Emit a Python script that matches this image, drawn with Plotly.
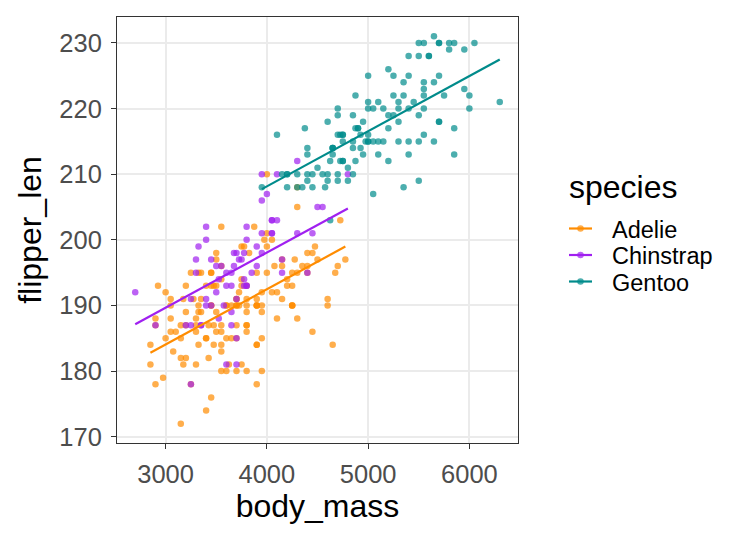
import numpy as np
import plotly.graph_objects as go

# Adelie: (flipper_len, body_mass)
adelie_flipper = [181,186,195,193,190,181,195,193,190,186,180,182,191,198,185,195,197,184,194,
                  174,180,189,185,180,187,183,187,172,180,178,178,188,184,195,196,190,180,181,
                  184,182,195,186,196,185,190,182,179,190,191,186,188,190,200,187,191,186,193,
                  181,194,185,195,185,192,184,192,195,188,190,198,190,190,196,197,190,195,191,
                  184,187,195,189,196,187,193,191,194,190,189,189,190,202,205,185,186,187,208,
                  190,196,178,192,192,203,183,190,193,184,199,190,181,197,198,191,193,197,191,
                  196,188,199,189,189,187,198,176,202,186,199,191,195,191,210,190,197,193,199,
                  187,190,191,200,185,193,193,187,188,190,192,185,190,184,195,193,187,201]
adelie_mass = [3750,3800,3250,3450,3650,3625,4675,3475,4250,3300,3700,3200,3800,4400,3700,3450,
               4500,3325,4200,3400,3600,3800,3950,3800,3800,3550,3200,3150,3950,3250,3900,3300,
               3900,3325,4150,3950,3550,3300,4650,3150,3900,3100,4400,3000,4600,3425,2975,3450,
               4150,3500,4300,3450,4050,2900,3700,3550,3800,2850,3750,3150,4400,3600,4050,2850,
               3950,3350,4100,3050,4450,3600,3900,3550,4150,3700,4250,3700,3900,3550,4000,3200,
               4700,3800,4200,3350,3550,3800,3500,3950,3600,3550,4300,3400,4450,3300,4300,3700,
               4350,2900,4100,3725,4725,3075,4250,2925,3550,3750,3900,3175,4775,3825,4600,3200,
               4275,3900,4075,2900,3775,3350,3325,3150,3500,3450,3875,3050,4000,3275,4300,3050,
               4000,3325,3500,3500,4475,3425,3900,3175,3975,3400,4250,3400,3475,3050,3725,3000,
               3650,4250,3475,3450,3750,3700,4000]

chinstrap_flipper = [192,196,193,188,197,198,178,197,195,198,193,194,185,201,190,201,197,181,190,
                     195,181,191,187,193,195,197,200,200,191,205,187,201,187,203,195,199,195,210,
                     192,205,210,187,196,196,196,201,190,212,187,198,199,201,193,203,187,197,191,
                     203,202,194,206,189,195,207,202,193,210,198]
chinstrap_mass = [3500,3900,3650,3525,3725,3950,3250,3750,4150,3700,3800,3775,3700,4050,3575,4050,
                  3300,3700,3450,4400,3600,3400,2900,3800,3300,4150,3400,3800,3700,4550,3200,4300,
                  3350,4100,3600,3900,3850,4800,2700,4500,3950,3650,3550,3500,3675,4450,3400,4300,
                  3250,3675,3325,3950,3600,4050,3350,3450,3250,4050,3800,3525,3950,3650,3650,4000,
                  3400,3775,4100,3775]

gentoo_flipper = [211,230,210,218,215,210,211,219,209,215,214,216,214,213,210,217,210,221,209,222,
                  218,215,213,215,215,215,216,215,210,220,222,209,207,230,220,220,213,219,208,208,
                  208,225,210,216,222,217,210,225,213,215,210,220,210,225,217,220,208,220,208,224,
                  208,221,214,231,219,230,214,229,220,223,216,221,221,217,216,230,209,220,215,223,
                  212,221,212,224,212,228,218,218,212,230,218,228,212,224,214,226,216,222,203,225,
                  219,228,215,228,216,215,210,219,208,209,216,229,213,230,217,230,217,222,214,215,
                  222,212,213]
gentoo_mass = [4500,5700,4450,5700,5400,4550,4800,5200,4400,5150,4650,5550,4650,5850,4200,5850,
               4150,6300,4800,5350,5700,5000,4400,5050,5000,5100,4100,5650,4600,5550,5250,4700,
               5050,6050,5150,5400,4950,5250,4350,5350,3950,5700,4300,4750,5550,4900,4200,5400,
               5100,5300,4850,5300,4400,5000,4900,5050,4300,5000,4450,5550,4200,5300,4400,5650,
               4700,5700,4650,5800,4700,5550,4750,5000,5100,5200,4700,5800,4600,6000,4750,5950,
               4625,5450,4725,5350,4750,5600,4600,5300,4875,5550,4950,5400,4750,5650,4850,5200,
               4925,4875,4625,5250,4850,5600,4975,5500,4725,5500,4700,5500,4575,5500,5000,5950,
               4650,5500,4375,5850,4875,6000,4925,4850,5750,5200,5400]

species = ["Adelie", "Chinstrap", "Gentoo"]
colors = {"Adelie": "#FF8C00", "Chinstrap": "#A020F0", "Gentoo": "#008B8B"}
data = {
    "Adelie": (adelie_mass, adelie_flipper),
    "Chinstrap": (chinstrap_mass, chinstrap_flipper),
    "Gentoo": (gentoo_mass, gentoo_flipper),
}

def rgba(hex_, a):
    h = hex_.lstrip("#")
    return f"rgba({int(h[0:2],16)},{int(h[2:4],16)},{int(h[4:6],16)},{a})"

FONT = "Liberation Sans, Arial, sans-serif"
fig = go.Figure()
for s in species:
    x, y = data[s]
    fig.add_trace(go.Scatter(x=x, y=y, mode="markers", showlegend=False,
                             marker=dict(size=6.5, color=rgba(colors[s], 0.7), line=dict(width=0))))

# parallel-slopes model: flipper_len ~ body_mass + species
sxy = 0.0
sxx = 0.0
for s in species:
    xa = np.array(data[s][0], float); ya = np.array(data[s][1], float)
    sxy += np.sum((xa - xa.mean()) * (ya - ya.mean()))
    sxx += np.sum((xa - xa.mean()) ** 2)
slope = sxy / sxx
for s in species:
    xa = np.array(data[s][0], float); ya = np.array(data[s][1], float)
    icpt = ya.mean() - slope * xa.mean()
    xs = np.array([xa.min(), xa.max()])
    fig.add_trace(go.Scatter(x=xs, y=icpt + slope * xs, mode="lines", showlegend=False,
                             line=dict(color=colors[s], width=2.2)))

# custom legend (pixel positions converted to paper coords)
PL, PR, PT, PB = 117, 518, 17, 443
def px(xp): return (xp - PL) / (PR - PL)
def py(yp): return (PB - yp) / (PB - PT)

fig.add_annotation(x=px(567), y=py(187), xref="paper", yref="paper", text="species",
                   showarrow=False, xanchor="left", yanchor="middle",
                   font=dict(size=32, color="black", family=FONT))
leg_y = [228.5, 255, 281.5]
for s, yy in zip(species, leg_y):
    fig.add_shape(type="line", xref="paper", yref="paper", x0=px(569), x1=px(592),
                  y0=py(yy), y1=py(yy), line=dict(color=colors[s], width=2.2))
    fig.add_shape(type="circle", xref="paper", yref="paper",
                  x0=px(580.5 - 3.3), x1=px(580.5 + 3.3), y0=py(yy - 3.3), y1=py(yy + 3.3),
                  fillcolor=rgba(colors[s], 0.7), line=dict(width=0))
    fig.add_annotation(x=px(610), y=py(yy + 1), xref="paper", yref="paper", text=s,
                       showarrow=False, xanchor="left", yanchor="middle",
                       font=dict(size=23.5, color="black", family=FONT))

axis_common = dict(showgrid=True, gridcolor="#EBEBEB", gridwidth=1.5, zeroline=False,
                   showline=True, linecolor="#333333", linewidth=1.1, mirror=True,
                   ticks="outside", ticklen=5, tickcolor="#333333", tickwidth=1.1,
                   tickfont=dict(size=25.5, color="#4D4D4D", family=FONT))

fig.update_layout(
    width=756, height=540,
    margin=dict(l=PL, r=756 - PR, t=PT, b=540 - PB),
    plot_bgcolor="white", paper_bgcolor="white",
    font=dict(family=FONT, color="black"),
    showlegend=False,
    xaxis=dict(range=[2520, 6480], tickvals=[3000, 4000, 5000, 6000], ticklabelstandoff=3,
               title=dict(text="body_mass", font=dict(size=32), standoff=6), **axis_common),
    yaxis=dict(range=[169.05, 233.95], tickvals=[170, 180, 190, 200, 210, 220, 230],
               ticklabelstandoff=4,
               title=dict(text="flipper_len", font=dict(size=32), standoff=8), **axis_common),
)

fig.write_html("out.html")
